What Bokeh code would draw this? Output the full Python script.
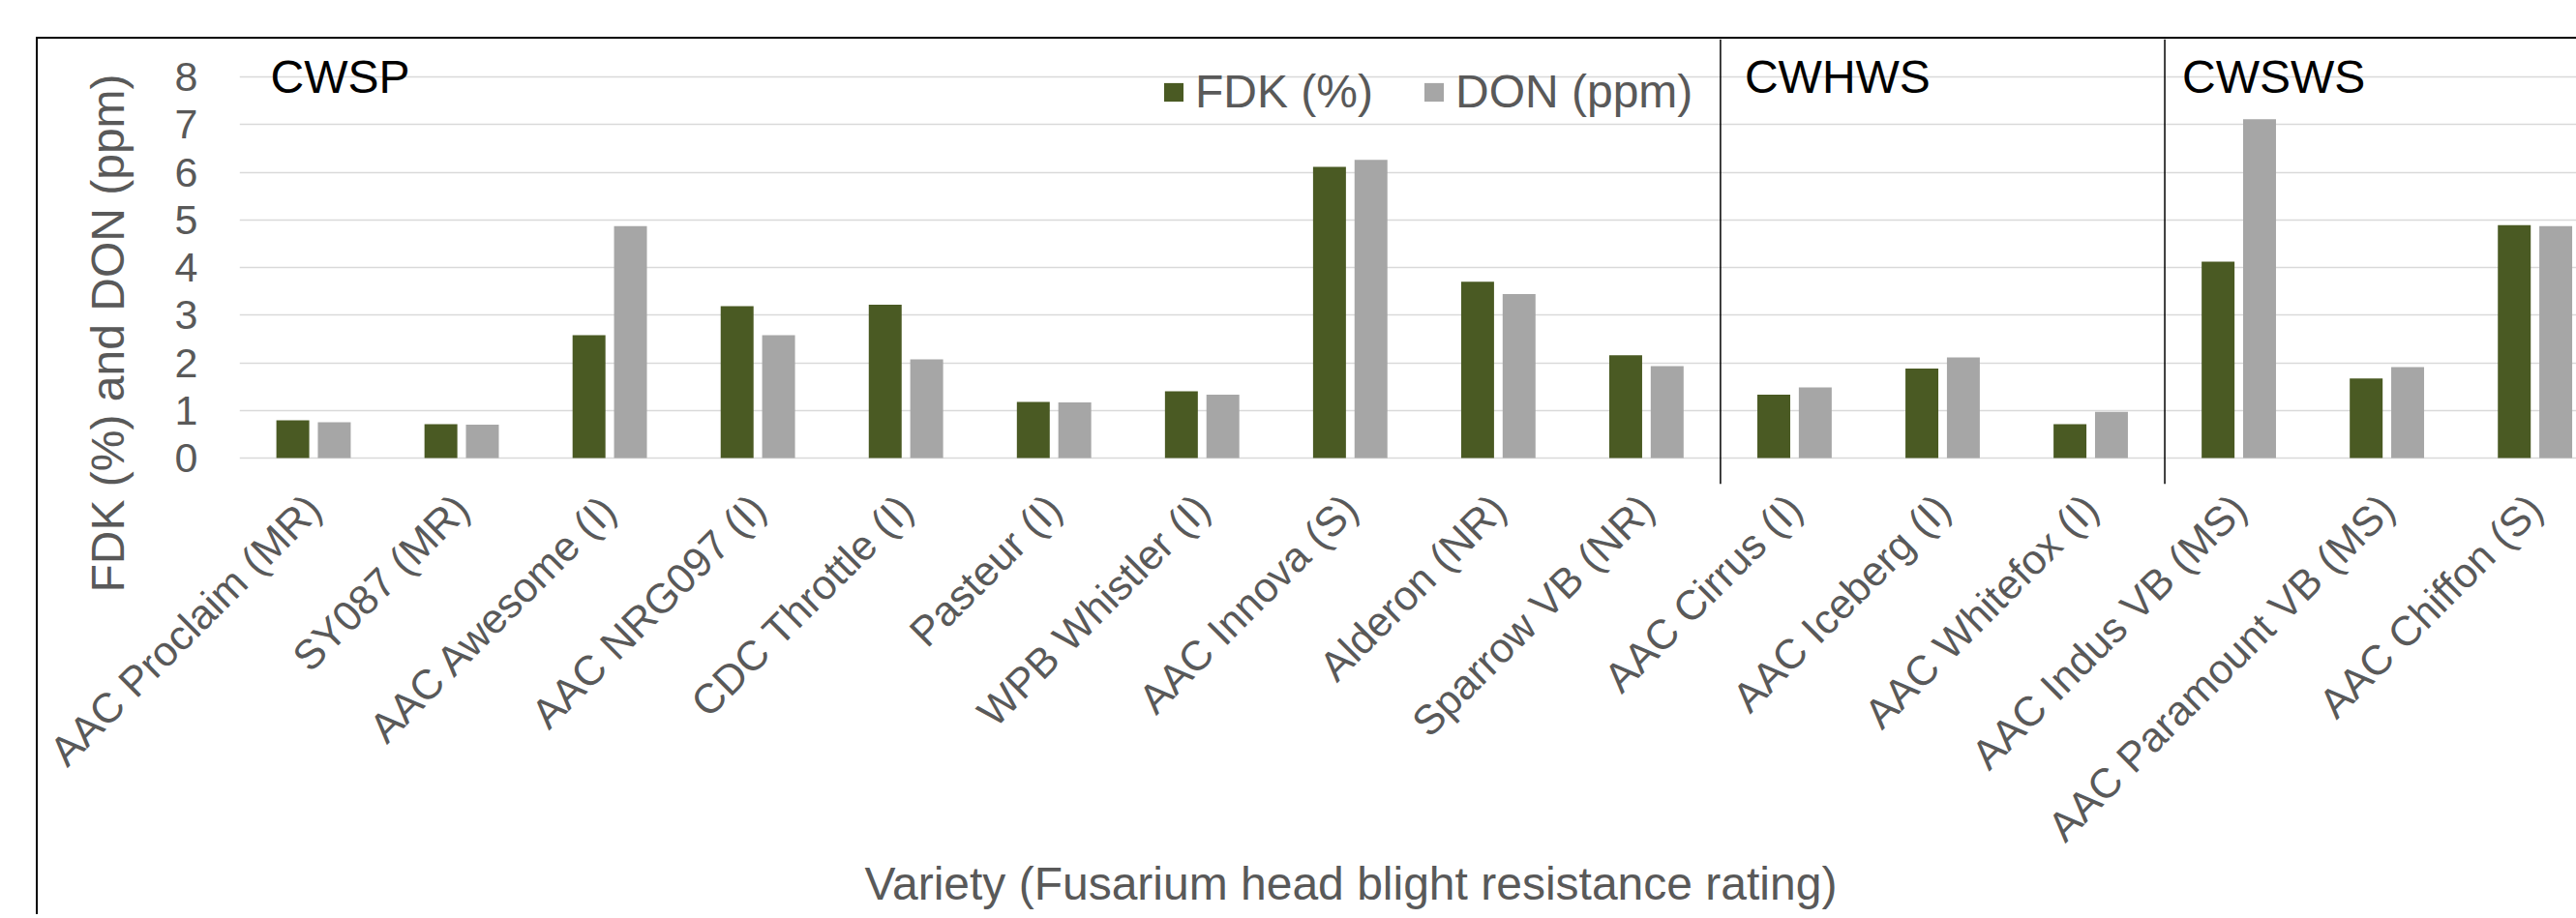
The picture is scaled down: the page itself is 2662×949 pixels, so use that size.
import numpy as np
from bokeh.plotting import figure
from bokeh.models import (Range1d, FixedTicker, Span, Title, Legend, LegendItem,
                          ColumnDataSource)
from bokeh.transform import dodge
from bokeh.embed import file_html
from bokeh.resources import INLINE
from bokeh.core.properties import value

# ---------------- data ----------------
varieties = [
    "AAC Proclaim (MR)", "SY087 (MR)", "AAC Awesome (I)", "AAC NRG097 (I)",
    "CDC Throttle (I)", "Pasteur (I)", "WPB Whistler (I)", "AAC Innova (S)",
    "Alderon (NR)", "Sparrow VB (NR)", "AAC Cirrus (I)", "AAC Iceberg (I)",
    "AAC Whitefox (I)", "AAC Indus VB (MS)", "AAC Paramount VB (MS)", "AAC Chiffon (S)",
]
fdk = [0.79, 0.71, 2.58, 3.19, 3.22, 1.18, 1.40, 6.11, 3.70, 2.16,
       1.33, 1.88, 0.71, 4.12, 1.67, 4.89]
don = [0.75, 0.70, 4.87, 2.58, 2.07, 1.17, 1.33, 6.26, 3.44, 1.93,
       1.48, 2.11, 0.97, 7.11, 1.91, 4.87]
groups = ["CWSP", "CWHWS", "CWSWS"]
group_start = [0, 10, 13]
y_ticks = [0, 1, 2, 3, 4, 5, 6, 7, 8]
series_names = ["FDK (%)", "DON (ppm)"]
y_title = "FDK (%) and DON (ppm)"
x_title = "Variety (Fusarium head blight resistance rating)"

FONT = "Liberation Sans"
TXT = "#595959"
GREEN = "#4A5A23"
GREY = "#A6A6A6"

centers = [i + 0.5 for i in range(len(varieties))]
src = ColumnDataSource(dict(x=centers, fdk=fdk, don=don, name=varieties))

p = figure(frame_width=2415, frame_height=460, output_backend="svg",
           toolbar_location=None,
           x_range=Range1d(0, 15.78), y_range=Range1d(-0.548, 8.792),
           min_border_left=208, min_border_right=0, min_border_top=0,
           min_border_bottom=445, outline_line_color=None,
           background_fill_color="white", border_fill_color="white")
p.styles = {"margin-left": "37px", "margin-top": "38px",
            "border-left": "2px solid #000000", "border-top": "2px solid #000000"}

r1 = p.vbar(x=dodge("x", -0.14, range=p.x_range), top="fdk", width=0.222,
            source=src, fill_color=GREEN, line_color=None)
r2 = p.vbar(x=dodge("x", 0.14, range=p.x_range), top="don", width=0.222,
            source=src, fill_color=GREY, line_color=None)

# group separators
for gs in group_start[1:]:
    p.add_layout(Span(location=gs, dimension="height", line_color="black",
                      line_width=1.5))

# group labels
gsrc = ColumnDataSource(dict(x=group_start, y=[8.0] * 3, text=groups,
                             off=[32, 25, 18]))
p.text(x="x", y="y", text="text", x_offset="off", source=gsrc,
       text_font=value(FONT), text_font_size="48px", text_color="black",
       text_baseline="middle", text_align="left")

# grid
p.ygrid.ticker = FixedTicker(ticks=y_ticks)
p.ygrid.grid_line_color = "#D9D9D9"
p.ygrid.grid_line_width = 1.5
p.xgrid.visible = False

# y axis
p.yaxis.ticker = FixedTicker(ticks=y_ticks)
p.yaxis.axis_line_color = None
p.yaxis.major_tick_line_color = None
p.yaxis.minor_tick_line_color = None
p.yaxis.major_tick_out = 0
p.yaxis.major_tick_in = 0
p.yaxis.major_label_standoff = 43
p.yaxis.major_label_text_font = FONT
p.yaxis.major_label_text_font_size = "43px"
p.yaxis.major_label_text_color = TXT

# x axis
p.xaxis.ticker = FixedTicker(ticks=centers)
p.xaxis.major_label_overrides = {c: v for c, v in zip(centers, varieties)}
p.xaxis.major_label_orientation = np.pi / 4
p.xaxis.axis_line_color = None
p.xaxis.major_tick_line_color = None
p.xaxis.minor_tick_line_color = None
p.xaxis.major_tick_out = 0
p.xaxis.major_tick_in = 0
p.xaxis.major_label_standoff = 18
p.xaxis.major_label_text_font = FONT
p.xaxis.major_label_text_font_size = "43px"
p.xaxis.major_label_text_color = TXT

# axis titles
p.add_layout(Title(text=y_title, align="left", offset=-112, standoff=79,
                   text_font=FONT, text_font_size="48px",
                   text_font_style="normal", text_color=TXT), "left")
p.add_layout(Title(text=x_title, align="left", offset=646, standoff=-27,
                   text_font=FONT, text_font_size="48px",
                   text_font_style="normal", text_color=TXT), "below")

legend = Legend(items=[LegendItem(label=series_names[0], renderers=[r1]),
                       LegendItem(label=series_names[1], renderers=[r2])],
                location=(953, 378), orientation="horizontal",
                glyph_width=25, glyph_height=24, label_standoff=10, spacing=50,
                padding=0, margin=0, label_text_font=FONT,
                label_text_font_size="48px", label_text_color=TXT,
                background_fill_alpha=0, border_line_color=None)
p.add_layout(legend)

open("out.html", "w").write(file_html(p, INLINE))
